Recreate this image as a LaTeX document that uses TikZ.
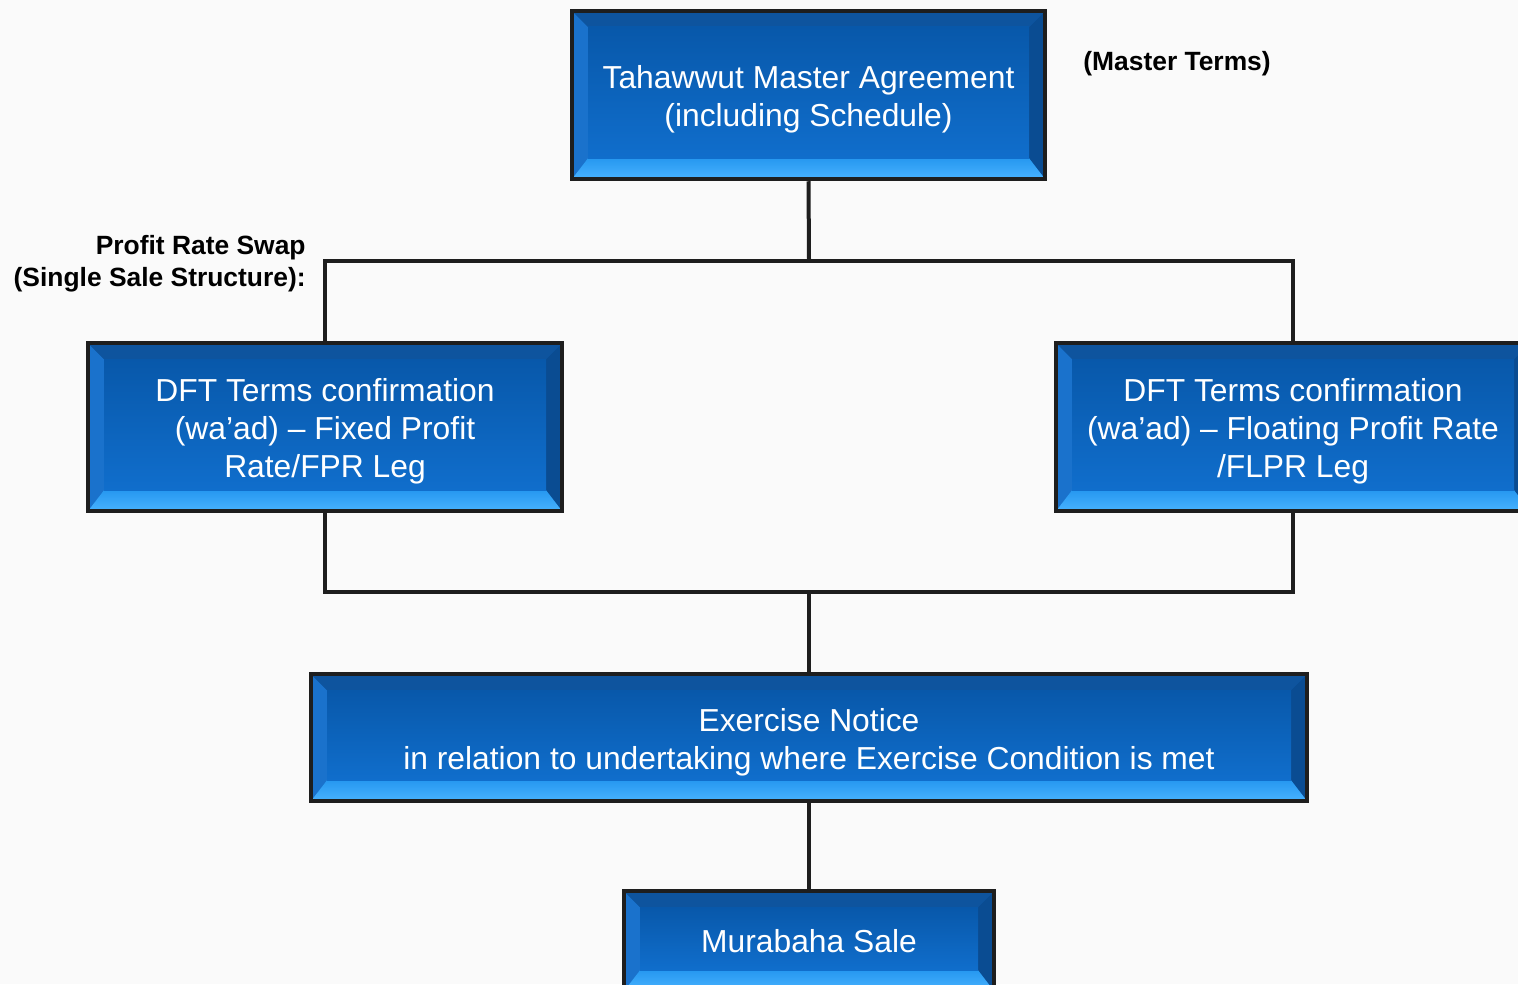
\documentclass[tikz,border=0pt]{standalone}
\usepackage{fontspec}
\setmainfont{Liberation Sans}
\usetikzlibrary{calc}

\definecolor{pagebg}{RGB}{250,250,250}
\definecolor{boxline}{RGB}{30,30,30}
\definecolor{bevtop}{RGB}{14,84,158}
\definecolor{bevleft}{RGB}{26,114,204}
\definecolor{bevright}{RGB}{10,76,146}
\definecolor{bevlow}{RGB}{38,152,240}
\definecolor{bevedge}{RGB}{72,178,255}
\definecolor{midtop}{RGB}{8,88,170}
\definecolor{midlow}{RGB}{16,110,204}

\newcommand{\bev}{8pt}
\newcommand{\firststrut}{\rule{0pt}{15.8pt}}

\tikzset{
  bevelbox/.style={draw=boxline, line width=2.25pt, fill=midtop, text=white,
    align=center, inner sep=0pt,
    font=\fontsize{15.9}{19}\selectfont,
    path picture={
      \coordinate (bbnw) at (path picture bounding box.north west);
      \coordinate (bbne) at (path picture bounding box.north east);
      \coordinate (bbsw) at (path picture bounding box.south west);
      \coordinate (bbse) at (path picture bounding box.south east);
      \coordinate (innw) at ($(bbnw)+(\bev,-\bev)$);
      \coordinate (inne) at ($(bbne)+(-\bev,-\bev)$);
      \coordinate (insw) at ($(bbsw)+(\bev,1.3*\bev)$);
      \coordinate (inse) at ($(bbse)+(-\bev,1.3*\bev)$);
      \path[fill=bevleft] (bbnw) -- (innw) -- (insw) -- (bbsw) -- cycle;
      \path[fill=bevright] (bbne) -- (inne) -- (inse) -- (bbse) -- cycle;
      \path[fill=bevtop] (bbnw) -- (bbne) -- (inne) -- (innw) -- cycle;
      \path[top color=bevlow, bottom color=bevedge] (bbsw) -- (bbse) -- (inse) -- (insw) -- cycle;
      \path[top color=midtop, bottom color=midlow] (innw) rectangle (inse);
    }},
  link/.style={draw=boxline, line width=2pt},
  lbl/.style={inner sep=0pt, font=\fontsize{13.2}{16}\selectfont\bfseries}
}

\begin{document}
\begin{tikzpicture}[x=0.5pt,y=-0.5pt]
  \path[fill=pagebg] (0,0) rectangle (1518,984);
  \useasboundingbox (0,0) rectangle (1518,984);

  % boxes
  \node[bevelbox, minimum width=236.5pt, minimum height=84pt] (master) at (808.5,95)
    {\firststrut Tahawwut Master Agreement\\(including Schedule)};
  \node[bevelbox, minimum width=237pt, minimum height=84pt] (fixed) at (325,427)
    {\firststrut DFT Terms confirmation\\(wa’ad) – Fixed Profit\\Rate/FPR Leg};
  \node[bevelbox, minimum width=237pt, minimum height=84pt] (floating) at (1293,427)
    {\firststrut DFT Terms confirmation\\(wa’ad) – Floating Profit Rate\\/FLPR Leg};
  \node[bevelbox, minimum width=498pt, minimum height=63.5pt] (notice) at (809,737.5)
    {\firststrut Exercise Notice\\in relation to undertaking where Exercise Condition is met};
  \node[bevelbox, minimum width=185pt, minimum height=50pt] (murabaha) at (809,941)
    {Murabaha Sale};

  % labels
  \node[lbl, anchor=east, align=right] (swaplbl) at (306,264)
    {Profit Rate Swap\\(Single Sale Structure):};
  \node[lbl, anchor=west] (termslbl) at (1083,64) {(Master Terms)};

  % connectors
  \coordinate (split) at (809,261);
  \coordinate (join) at (809,592);
  \draw[link] (master.south) -- (split);
  \draw[link] (fixed.north) |- (split) -| (floating.north);
  \draw[link] (fixed.south) |- (join) -| (floating.south);
  \draw[link] (join) -- (notice.north);
  \draw[link] (notice.south) -- (murabaha.north);
\end{tikzpicture}
\end{document}
